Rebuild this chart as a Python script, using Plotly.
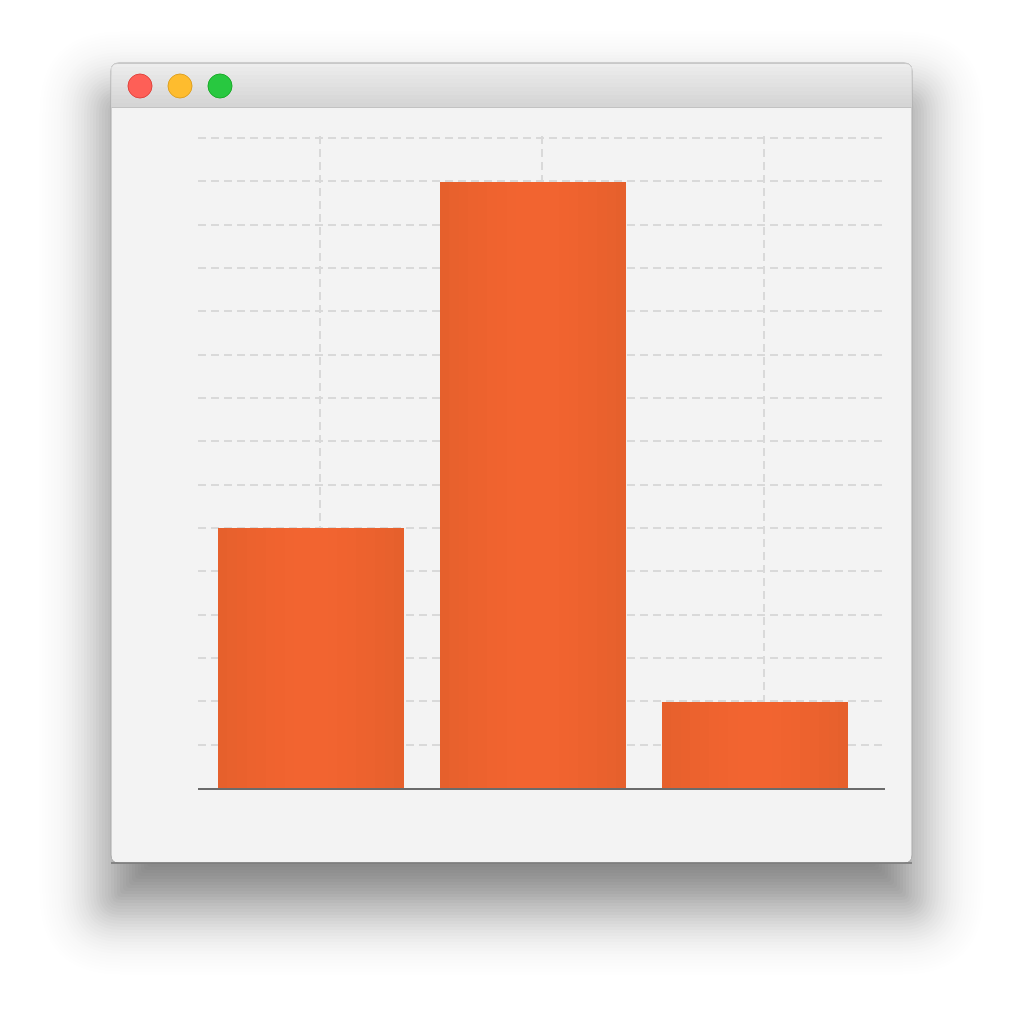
import math
import plotly.graph_objects as go

# ---- data ----
categories = ["A", "B", "C"]
values = [6, 14, 2]
x_grid_ticks = [0.04, 1.04, 2.04]
y_max = 15

W = H = 1024


def px(x):
    return x / W


def py(y):
    return 1 - y / H


def rrect_path(x0, y0, x1, y1, r, top_only=False):
    r = max(0.0, min(r, (x1 - x0) / 2, (y1 - y0) / 2))
    rb = 0 if top_only else r
    p = f"M {px(x0 + r)},{py(y0)} L {px(x1 - r)},{py(y0)} "
    p += f"Q {px(x1)},{py(y0)} {px(x1)},{py(y0 + r)} "
    p += f"L {px(x1)},{py(y1 - rb)} "
    if rb:
        p += f"Q {px(x1)},{py(y1)} {px(x1 - rb)},{py(y1)} "
    p += f"L {px(x0 + rb)},{py(y1)} "
    if rb:
        p += f"Q {px(x0)},{py(y1)} {px(x0)},{py(y1 - rb)} "
    p += f"L {px(x0)},{py(y0 + r)} Q {px(x0)},{py(y0)} {px(x0 + r)},{py(y0)} Z"
    return p


def phi(z):
    return 0.5 * math.erfc(-z / math.sqrt(2))


shapes = []
# ---- soft window shadow (layered nested rects approximating a gaussian blur) ----
sigma = 36.0
peak = 0.5
off = 40.0
step = 3.0
es = [-105 + step * k for k in range(int(225 / step) + 1)]
T = [1 - peak * phi(-(e - step / 2) / sigma) for e in es]
T.append(1.0)
for k in range(len(es) - 1, -1, -1):
    e = es[k]
    a = 1 - T[k] / T[k + 1]
    if a <= 0.0005:
        continue
    shapes.append(dict(type="path", xref="paper", yref="paper", layer="below",
                       path=rrect_path(111 - e, 63 + off - e, 912 + e, 863 + off + e, max(4, 10 + e)),
                       fillcolor=f"rgba(0,0,0,{a:.4f})", line=dict(width=0)))
# window body
shapes.append(dict(type="path", xref="paper", yref="paper", layer="below",
                   path=rrect_path(111, 63, 912, 863, 8),
                   fillcolor="#f3f3f3", line=dict(color="#a9a9a9", width=1)))
shapes.append(dict(type="line", xref="paper", yref="paper", layer="below",
                   x0=px(111), x1=px(912), y0=py(863), y1=py(863),
                   line=dict(color="#757575", width=1.5)))
# title bar gradient
top_c = (237, 237, 237)
bot_c = (213, 213, 213)
n = 11
for i in range(n):
    t = i / (n - 1)
    c = tuple(int(top_c[k] + (bot_c[k] - top_c[k]) * t) for k in range(3))
    y0 = 63 + i * 4
    y1 = min(107, y0 + 4)
    if i == 0:
        path = rrect_path(111.5, 63.5, 911.5, y1 + 8, 8, top_only=True)
        shapes.append(dict(type="path", xref="paper", yref="paper", layer="below",
                           path=path, fillcolor=f"rgb{c}", line=dict(color="#c8c8c8", width=1)))
    else:
        shapes.append(dict(type="rect", xref="paper", yref="paper", layer="below",
                           x0=px(111.5), x1=px(911.5), y0=py(y0), y1=py(y1),
                           fillcolor=f"rgb{c}", line=dict(width=0)))
shapes.append(dict(type="line", xref="paper", yref="paper", layer="below",
                   x0=px(111.5), x1=px(911.5), y0=py(107.5), y1=py(107.5),
                   line=dict(color="#c2c2c2", width=1)))
# traffic lights
for cx, fill, edge in [(140, "#fe5f57", "#e0443e"), (180, "#febc2e", "#dea123"), (220, "#28c840", "#1aab29")]:
    r = 12
    shapes.append(dict(type="circle", xref="paper", yref="paper", layer="below",
                       x0=px(cx - r), x1=px(cx + r), y0=py(86 + r), y1=py(86 - r),
                       fillcolor=fill, line=dict(color=edge, width=1)))

fig = go.Figure()

# bars with horizontal gradient via overlaid narrower bars
edge_c = (230, 96, 44)
mid_c = (242, 100, 48)
full_w = 0.838
nl = 10
xs = list(range(len(categories)))
for i in range(nl):
    t = i / (nl - 1)
    w = full_w * (1 - 0.92 * t)
    tt = 1 - (1 - t) ** 1.6
    col = tuple(int(round(edge_c[k] + (mid_c[k] - edge_c[k]) * tt)) for k in range(3))
    fig.add_trace(go.Bar(x=xs, y=values, width=w,
                         marker=dict(color=f"rgb{col}", line=dict(width=0)),
                         hoverinfo="skip", showlegend=False, text=categories, textposition="none"))

fig.update_layout(
    width=W, height=H,
    margin=dict(l=0, r=0, t=0, b=0),
    paper_bgcolor="white",
    plot_bgcolor="rgba(0,0,0,0)",
    barmode="overlay",
    bargap=0,
    shapes=shapes,
    showlegend=False,
    xaxis=dict(domain=[px(198), px(885)], range=[-0.509, 2.586],
               tickvals=x_grid_ticks, showticklabels=False, ticks="",
               showgrid=True, gridcolor="#d9d9d9", gridwidth=2, griddash="8px,5px",
               zeroline=False, showline=True, linecolor="#6b6b6b", linewidth=2,
               fixedrange=True),
    yaxis=dict(domain=[py(788), py(135.8)], range=[0, 15.05], dtick=1,
               showticklabels=False, ticks="",
               showgrid=True, gridcolor="#d9d9d9", gridwidth=2, griddash="8px,5px",
               zeroline=False, showline=False, fixedrange=True),
)

fig.write_html("out.html")
